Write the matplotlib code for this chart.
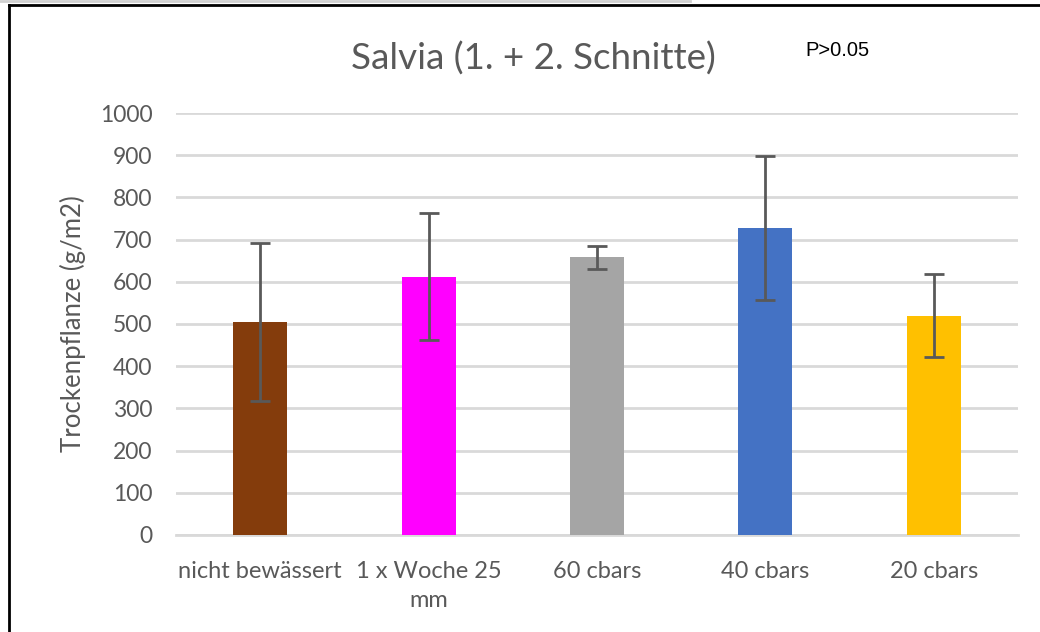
import matplotlib
matplotlib.use("Agg")
import matplotlib.pyplot as plt
from matplotlib.lines import Line2D
import numpy as np

categories = ["nicht bewässert", "1 x Woche 25\nmm", "60 cbars", "40 cbars", "20 cbars"]
means = [505, 612, 658, 727, 520]
errors = [187, 150, 27, 170, 98]
colors = ["#843C0C", "#FF00FF", "#A5A5A5", "#4472C4", "#FFC000"]
yticks = [0, 100, 200, 300, 400, 500, 600, 700, 800, 900, 1000]

txt = "#595959"
plt.rcParams["font.family"] = ["Lato", "DejaVu Sans"]

fig = plt.figure(figsize=(10.4, 6.32), dpi=100)
ax = fig.add_axes([0.1692, 0.1535, 0.8096, 0.6677])

x = np.arange(len(categories))
ax.bar(x, means, width=0.32, color=colors, zorder=3)
ax.errorbar(x, means, yerr=errors, fmt="none", ecolor=txt, elinewidth=2,
            capsize=7, capthick=2, zorder=4)

ax.set_xlim(-0.5, len(categories) - 0.5)
ax.set_ylim(0, 1000)
ax.set_yticks(yticks)
ax.yaxis.grid(True, color="#D9D9D9", linewidth=2, zorder=0)
for s in ["top", "right", "left"]:
    ax.spines[s].set_visible(False)
ax.spines["bottom"].set_color("#D9D9D9")
ax.spines["bottom"].set_linewidth(2)
ax.tick_params(axis="both", length=0, colors=txt)
ax.tick_params(axis="y", pad=17, labelsize=16.5)
ax.tick_params(axis="x", pad=19, labelsize=17)
ax.set_xticks(x)
ax.set_xticklabels(categories, linespacing=1.45)
ax.set_ylabel("Trockenpflanze (g/m2)", fontsize=18.5, color=txt, labelpad=10)

fig.text(0.5125, 0.908, "Salvia (1. + 2. Schnitte)", fontsize=26.5, color=txt,
         ha="center", va="center")
fig.text(0.8055, 0.92, "P>0.05", fontsize=14.5, color="black",
         family="Liberation Sans", ha="center", va="center")

# outer frame (top and left edges)
fig.add_artist(Line2D([9 / 1040, 1], [1 - 5 / 632, 1 - 5 / 632], color="black",
                      linewidth=2, transform=fig.transFigure))
fig.add_artist(Line2D([9 / 1040, 9 / 1040], [0, 1 - 5 / 632], color="black",
                      linewidth=2, transform=fig.transFigure))
fig.add_artist(Line2D([0, 690 / 1040], [1 - 1 / 632, 1 - 1 / 632], color="#D0D0D0",
                      linewidth=2, transform=fig.transFigure))

fig.savefig("out.png", dpi=100)
